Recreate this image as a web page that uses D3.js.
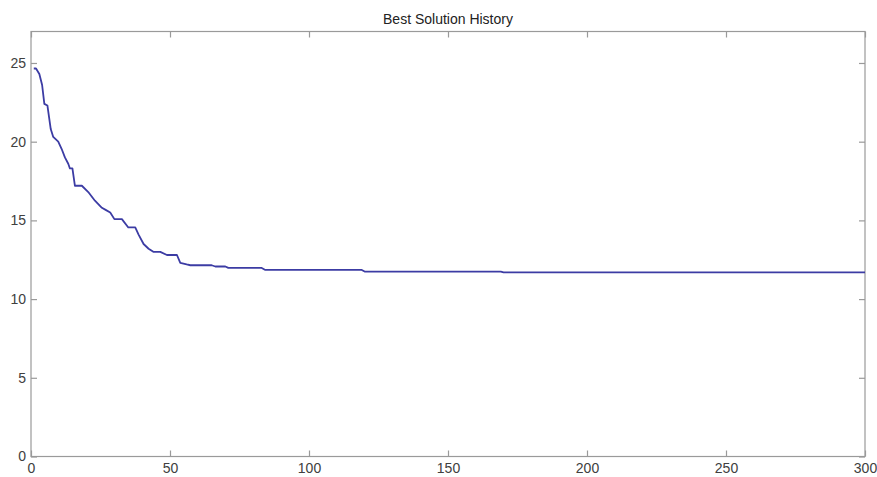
<!DOCTYPE html>
<html>
<head>
<meta charset="utf-8">
<script src="https://cdn.jsdelivr.net/npm/d3@7"></script>
<style>
  html, body { margin: 0; padding: 0; background: #fff; }
  svg { display: block; }
  text { font-family: "Liberation Sans", Arial, Helvetica, sans-serif; }
</style>
</head>
<body>
<svg id="chart" width="877" height="477"></svg>
<script>
// ---- Data ----
const title = "Best Solution History";
const iterations = [1, 1.8, 3, 4, 4.8, 5.9, 7.1, 8, 9.8, 11, 12.2, 13.4, 14, 14.9, 15.8, 18.3, 20.6, 23, 25.5, 27, 28.5, 30, 32.7, 35, 37.5, 38.7, 40.5, 42.3, 44, 46.5, 48.9, 52.5, 53.7, 56, 57.3, 65, 66.3, 69.9, 71, 83, 84.3, 119, 120, 169, 170, 300];
const bestValues = [24.65, 24.65, 24.3, 23.6, 22.4, 22.3, 20.8, 20.3, 20.0, 19.55, 19.0, 18.6, 18.3, 18.3, 17.2, 17.2, 16.8, 16.25, 15.8, 15.65, 15.5, 15.08, 15.08, 14.55, 14.55, 14.1, 13.5, 13.2, 13.0, 13.0, 12.8, 12.8, 12.3, 12.2, 12.15, 12.15, 12.07, 12.07, 11.98, 11.98, 11.85, 11.85, 11.75, 11.75, 11.7, 11.7];
const xTicks = [0, 50, 100, 150, 200, 250, 300];
const yTicks = [0, 5, 10, 15, 20, 25];
const xDomain = [0, 300];
const yDomain = [0, 27];

// ---- Layout ----
const svg = d3.select("#chart");
const mLeft = 31, mRight = 865, mTop = 31.5, mBottom = 456.5;

const x = d3.scaleLinear().domain(xDomain).range([mLeft, mRight]);
const y = d3.scaleLinear().domain(yDomain).range([mBottom, mTop]);

const axisColor = "#9a9a9a";
const labelColor = "#404040";
const tickLen = 6;

// frame
svg.append("rect")
  .attr("x", mLeft).attr("y", mTop)
  .attr("width", mRight - mLeft).attr("height", mBottom - mTop)
  .attr("fill", "none").attr("stroke", axisColor).attr("stroke-width", 1.2);

// axes (ticks inward)
const styleAxis = g => {
  g.select(".domain").remove();
  g.selectAll(".tick line").attr("stroke", axisColor).attr("stroke-width", 1.2);
  g.selectAll(".tick text").attr("fill", labelColor).attr("font-size", "14px")
    .attr("font-family", "'Liberation Sans', Arial, sans-serif");
};

svg.append("g").attr("transform", `translate(0,${mBottom})`)
  .call(d3.axisBottom(x).tickValues(xTicks).tickSize(-tickLen).tickPadding(7).tickFormat(d3.format("d")))
  .call(styleAxis);

svg.append("g").attr("transform", `translate(0,${mTop})`)
  .call(d3.axisTop(x).tickValues(xTicks).tickSize(-tickLen).tickFormat(""))
  .call(styleAxis);

svg.append("g").attr("transform", `translate(${mLeft},0)`)
  .call(d3.axisLeft(y).tickValues(yTicks).tickSize(-tickLen).tickPadding(5).tickFormat(d3.format("d")))
  .call(styleAxis);

svg.append("g").attr("transform", `translate(${mRight},0)`)
  .call(d3.axisRight(y).tickValues(yTicks).tickSize(-tickLen).tickFormat(""))
  .call(styleAxis);

// line
const pts = iterations.map((it, i) => [it, bestValues[i]]);
svg.append("path")
  .datum(pts)
  .attr("fill", "none")
  .attr("stroke", "#3c3ca4")
  .attr("stroke-width", 1.8)
  .attr("stroke-linejoin", "round")
  .attr("d", d3.line().x(d => x(d[0])).y(d => y(d[1])));

// title
svg.append("text")
  .attr("x", (mLeft + mRight) / 2).attr("y", 24)
  .attr("text-anchor", "middle")
  .attr("font-size", "14px")
  .attr("fill", "#222")
  .text(title);
</script>
</body>
</html>
